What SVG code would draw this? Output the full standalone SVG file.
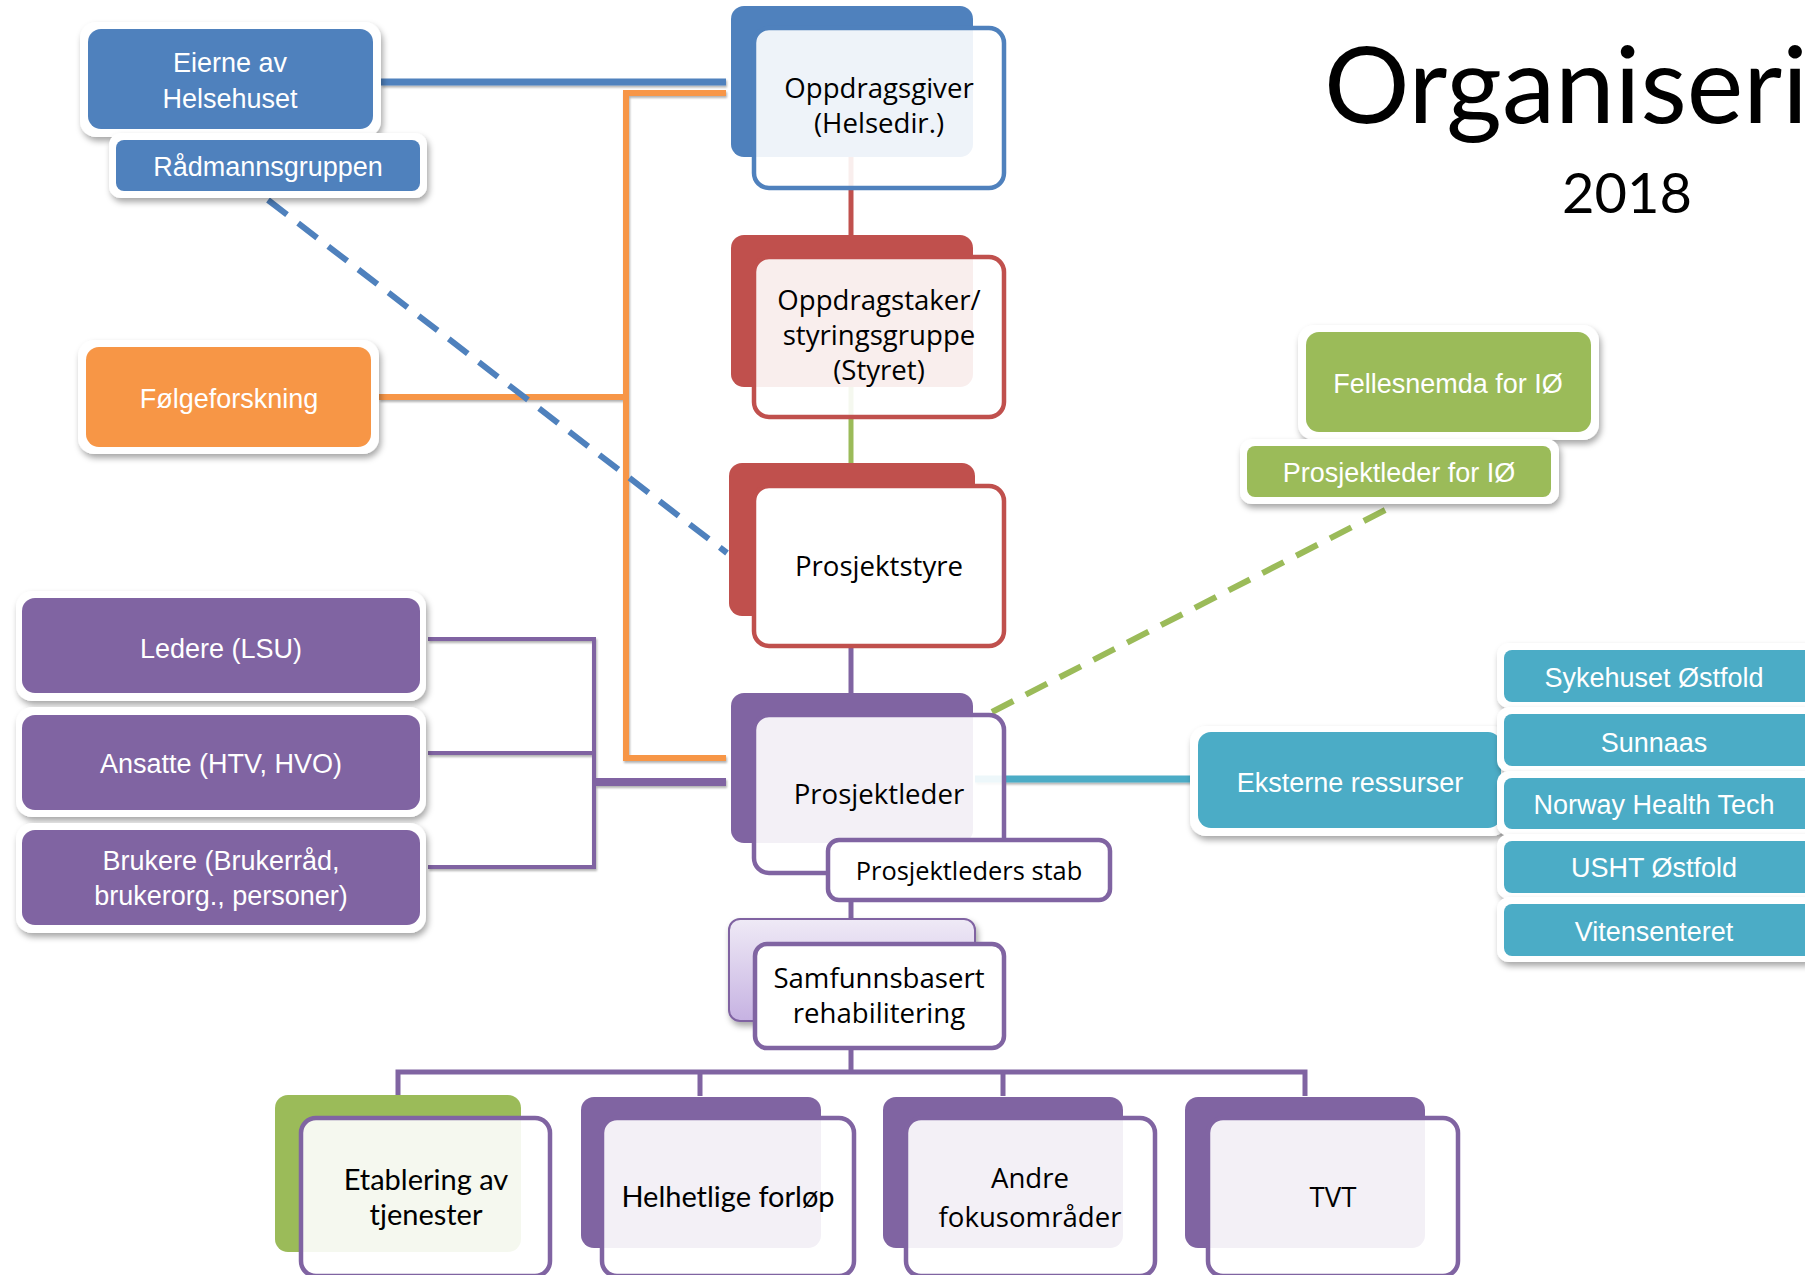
<svg xmlns="http://www.w3.org/2000/svg" width="1805" height="1275" viewBox="0 0 1805 1275">
<defs>
<filter id="sh" x="-10%" y="-10%" width="130%" height="140%"><feDropShadow dx="2" dy="4" stdDeviation="3" flood-color="#000" flood-opacity="0.35"/></filter>
<filter id="lsh" x="-5%" y="-50%" width="110%" height="200%"><feDropShadow dx="1" dy="2" stdDeviation="1.2" flood-color="#000" flood-opacity="0.3"/></filter>
<linearGradient id="lav" x1="0" y1="0" x2="0" y2="1"><stop offset="0" stop-color="#EFEAF6"/><stop offset="1" stop-color="#C6B2E2"/></linearGradient>
</defs>
<style>
.halo{fill:#fff;filter:url(#sh)}
.wt{font-family:"Liberation Sans",Arial,sans-serif;font-size:27px;fill:#fff;text-anchor:middle}
.bt{font-family:"Open Sans","Noto Sans",sans-serif;font-size:27.6px;fill:#000;text-anchor:middle}
.ct{font-family:Lato,"Open Sans",sans-serif;font-size:29px;fill:#000;text-anchor:middle}
.blue{fill:#4F81BD}.red{fill:#C0504D}.green{fill:#9BBB59}.purple{fill:#8064A2}.orange{fill:#F79646}.teal{fill:#4BACC6}
.fb{stroke:#4F81BD}.fr{stroke:#C0504D}.fp{stroke:#8064A2}
.front{stroke-width:4.5;fill:#fff;fill-opacity:0.9}
.solidfront{stroke-width:4.5;fill:#fff}
.ln{fill:none;stroke-linejoin:miter}
</style>
<rect width="1805" height="1275" fill="#fff"/>
<text x="1324" y="123" font-family="Lato,Carlito,sans-serif" font-size="107" fill="#000">Organiseri</text>
<text x="1627" y="213" font-family="Lato,Carlito,sans-serif" font-size="56" fill="#000" text-anchor="middle">2018</text>

<g id="connectors">
<g filter="url(#lsh)">
<path class="ln" d="M381 82 H726" stroke="#4F81BD" stroke-width="7"/>
<path class="ln" d="M379 397 H626" stroke="#F79646" stroke-width="6"/>
<path class="ln" d="M726 93 H626 V758 H726" stroke="#F79646" stroke-width="6"/>
<path class="ln" d="M428 639 H594 V867 H428 M428 753 H594" stroke="#8064A2" stroke-width="4"/>
<path class="ln" d="M594 782 H726" stroke="#8064A2" stroke-width="8"/>
<path class="ln" d="M975 779 H1192" stroke="#4BACC6" stroke-width="7"/>
</g>
<path class="ln" d="M268 200 L727 553" stroke="#4F81BD" stroke-width="6" stroke-dasharray="24 14"/>
<path class="ln" d="M992 712 L1393 506" stroke="#9BBB59" stroke-width="6" stroke-dasharray="24 14"/>
<path class="ln" d="M851 157 V236" stroke="#C0504D" stroke-width="5"/>
<path class="ln" d="M851 387 V464" stroke="#9BBB59" stroke-width="5"/>
<path class="ln" d="M851 646 V694" stroke="#8064A2" stroke-width="5"/>
<path class="ln" d="M851 873 V920" stroke="#8064A2" stroke-width="5"/>
<path class="ln" d="M851 1048 V1072 M398 1096 V1072 H1305 V1096 M700 1072 V1096 M1003 1072 V1096" stroke="#8064A2" stroke-width="5"/>
</g>

<g id="n-eierne"><rect class="halo" x="80" y="22" width="301" height="115" rx="16"/><rect class="blue" x="88" y="29" width="285" height="100" rx="13"/><text class="wt" x="230" y="72">Eierne av</text><text class="wt" x="230" y="108">Helsehuset</text></g>
<g id="n-radmann"><rect class="halo" x="109" y="133" width="318" height="65" rx="12"/><rect class="blue" x="116" y="140" width="304" height="51" rx="8"/><text class="wt" x="268" y="176">Rådmannsgruppen</text></g>
<g id="n-folge"><rect class="halo" x="78" y="340" width="301" height="114" rx="16"/><rect class="orange" x="86" y="347" width="285" height="100" rx="13"/><text class="wt" x="229" y="408">Følgeforskning</text></g>

<g id="n-ledere"><rect class="halo" x="16" y="591" width="410" height="110" rx="16"/><rect class="purple" x="22" y="598" width="398" height="95" rx="13"/><text class="wt" x="221" y="658">Ledere (LSU)</text></g>
<g id="n-ansatte"><rect class="halo" x="16" y="707" width="410" height="110" rx="16"/><rect class="purple" x="22" y="715" width="398" height="95" rx="13"/><text class="wt" x="221" y="773">Ansatte (HTV, HVO)</text></g>
<g id="n-brukere"><rect class="halo" x="16" y="823" width="410" height="110" rx="16"/><rect class="purple" x="22" y="830" width="398" height="95" rx="13"/><text class="wt" x="221" y="870">Brukere (Brukerråd,</text><text class="wt" x="221" y="905">brukerorg., personer)</text></g>

<g id="n-oppdragsgiver"><rect class="blue" x="731" y="6" width="242" height="151" rx="13"/><rect class="front fb" x="754" y="28" width="250" height="160" rx="15"/><text class="bt" x="879" y="98">Oppdragsgiver</text><text class="bt" x="879" y="133">(Helsedir.)</text></g>
<g id="n-oppdragstaker"><rect class="red" x="731" y="235" width="242" height="152" rx="13"/><rect class="front fr" x="754" y="257" width="250" height="160" rx="15"/><text class="bt" x="879" y="310">Oppdragstaker/</text><text class="bt" x="879" y="345">styringsgruppe</text><text class="bt" x="879" y="380">(Styret)</text></g>
<g id="n-prosjektstyre"><rect class="red" x="729" y="463" width="246" height="153" rx="13"/><rect class="solidfront fr" x="754" y="486" width="250" height="160" rx="15"/><text class="bt" x="879" y="576">Prosjektstyre</text></g>
<g id="n-prosjektleder"><rect class="purple" x="731" y="693" width="242" height="150" rx="13"/><rect class="front fp" x="754" y="715" width="250" height="158" rx="15"/><text class="bt" x="879" y="804">Prosjektleder</text></g>
<g id="n-stab"><rect class="solidfront fp" x="828" y="840" width="282" height="60" rx="11"/><text class="bt" x="969" y="880" style="font-size:25.4px">Prosjektleders stab</text></g>
<g id="n-samfunn"><rect x="729" y="919" width="246" height="102" rx="11" fill="url(#lav)" stroke="#8064A2" stroke-width="2" filter="url(#sh)"/><rect class="solidfront fp" x="755" y="944" width="249" height="104" rx="12"/><text class="bt" x="879" y="988">Samfunnsbasert</text><text class="bt" x="879" y="1023">rehabilitering</text></g>

<g id="n-etablering"><rect class="green" x="275" y="1095" width="246" height="157" rx="13"/><rect class="front fp" x="301" y="1118" width="249" height="158" rx="15"/><text class="ct" x="426" y="1190">Etablering av</text><text class="ct" x="426" y="1225">tjenester</text></g>
<g id="n-helhetlige"><rect class="purple" x="581" y="1097" width="240" height="151" rx="13"/><rect class="front fp" x="602" y="1118" width="252" height="158" rx="15"/><text class="ct" x="728" y="1207">Helhetlige forløp</text></g>
<g id="n-andre"><rect class="purple" x="883" y="1097" width="240" height="151" rx="13"/><rect class="front fp" x="906" y="1118" width="249" height="158" rx="15"/><text class="bt" x="1030" y="1188">Andre</text><text class="bt" x="1030" y="1227">fokusområder</text></g>
<g id="n-tvt"><rect class="purple" x="1185" y="1097" width="240" height="151" rx="13"/><rect class="front fp" x="1208" y="1118" width="250" height="158" rx="15"/><text class="bt" x="1333" y="1207">TVT</text></g>

<g id="n-fellesnemda"><rect class="halo" x="1298" y="325" width="301" height="115" rx="16"/><rect class="green" x="1306" y="332" width="285" height="100" rx="13"/><text class="wt" x="1448" y="393">Fellesnemda for IØ</text></g>
<g id="n-plio"><rect class="halo" x="1240" y="439" width="319" height="65" rx="12"/><rect class="green" x="1247" y="446" width="304" height="51" rx="8"/><text class="wt" x="1399" y="482">Prosjektleder for IØ</text></g>

<g id="n-eksterne"><rect class="halo" x="1190" y="726" width="318" height="110" rx="16"/><rect class="teal" x="1198" y="732" width="303" height="96" rx="13"/><text class="wt" x="1350" y="792">Eksterne ressurser</text></g>
<g id="n-sykehuset"><rect class="halo" x="1497" y="643" width="320" height="65" rx="12"/><rect class="teal" x="1504" y="650" width="310" height="52" rx="8"/><text class="wt" x="1654" y="687">Sykehuset Østfold</text></g>
<g id="n-sunnaas"><rect class="halo" x="1497" y="707" width="320" height="65" rx="12"/><rect class="teal" x="1504" y="714" width="310" height="52" rx="8"/><text class="wt" x="1654" y="752">Sunnaas</text></g>
<g id="n-norway"><rect class="halo" x="1497" y="771" width="320" height="65" rx="12"/><rect class="teal" x="1504" y="778" width="310" height="51" rx="8"/><text class="wt" x="1654" y="814">Norway Health Tech</text></g>
<g id="n-usht"><rect class="halo" x="1497" y="834" width="320" height="65" rx="12"/><rect class="teal" x="1504" y="841" width="310" height="52" rx="8"/><text class="wt" x="1654" y="877">USHT Østfold</text></g>
<g id="n-viten"><rect class="halo" x="1497" y="897" width="320" height="65" rx="12"/><rect class="teal" x="1504" y="904" width="310" height="52" rx="8"/><text class="wt" x="1654" y="941">Vitensenteret</text></g>
</svg>
